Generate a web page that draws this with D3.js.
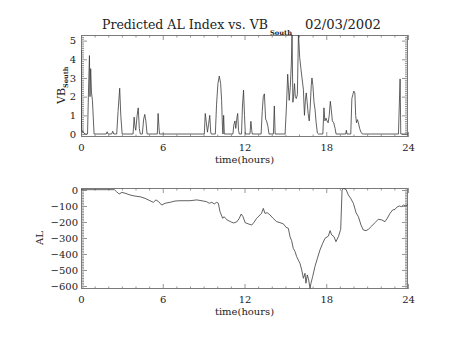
<!DOCTYPE html>
<html><head><meta charset="utf-8">
<script src="https://cdn.jsdelivr.net/npm/d3@7"></script>
<style>
html,body{margin:0;padding:0;background:#fff;}
text{font-family:"DejaVu Serif","Liberation Serif",serif;fill:#222;}
</style></head>
<body>
<svg id="c" width="454" height="341"></svg>
<script>
// ---------- data ----------
const vbTime = [0,0.03,0.08,0.15,0.22,0.3,0.48,0.55,0.62,0.66,0.71,0.77,0.84,0.9,0.96,
1.85,1.92,1.98,2.25,2.33,2.4,2.62,2.72,2.84,2.92,3.02,3.82,3.9,3.96,4.02,4.12,4.2,4.28,4.35,
4.5,4.6,4.68,4.76,4.85,5.6,5.66,5.72,5.76,9.05,9.12,9.2,9.28,9.36,9.45,9.52,9.56,
9.86,9.95,10.05,10.15,10.25,10.32,10.38,10.42,10.47,10.52,11.15,11.22,11.3,11.36,11.45,11.5,11.56,11.62,
11.78,11.85,11.93,12.0,12.06,12.4,12.47,12.53,12.57,13.22,13.3,13.38,13.46,13.55,13.62,13.72,13.8,
14.12,14.19,14.25,14.98,15.08,15.17,15.28,15.36,15.44,15.49,15.55,15.6,15.67,15.73,15.8,15.88,15.96,
16.05,16.14,16.22,16.32,16.4,16.47,16.53,16.6,16.67,16.75,16.82,16.9,16.95,17.02,17.1,17.18,17.26,17.35,17.42,
17.75,17.83,17.9,17.98,18.06,18.14,18.22,18.3,18.37,18.45,18.55,18.65,18.72,19.42,19.48,19.52,
19.8,19.88,19.95,20.02,20.1,20.16,20.22,20.29,20.36,20.45,20.55,20.65,23.3,23.36,23.42,23.47,24];
const vbValue = [4.5,0.3,0.1,0.15,0.05,0,0,2.3,4.2,2.0,3.5,2.2,1.8,0.9,0,
0,0.12,0,0,0.15,0,0,1.2,2.45,1.0,0,0,0.9,0.4,0.2,1.0,1.4,0.3,0,
0,0.8,1.05,0.7,0,0,1.1,0.4,0,0,1.1,0.6,0.1,0.5,1.0,0.1,0,
0,1.6,2.7,3.1,2.7,1.8,0.4,0,1.0,0,0,0.5,0.7,0.3,0.9,1.1,0.2,0,
0,1.5,2.35,1.0,0,0,0.68,0.2,0,0,1.2,2.0,2.15,0.8,0.7,0.4,0,
0,1.5,0,0,1.5,3.2,1.8,2.5,3.8,5.4,1.7,2.0,2.7,2.0,1.9,2.1,5.4,
4.1,3.5,3.0,2.4,1.0,1.8,2.2,1.7,1.1,0.7,1.4,2.6,3.0,2.6,1.7,1.3,0.6,0.05,0,
0,1.4,0.7,0.85,0.7,0.6,1.0,1.75,1.3,0.7,0.6,0.3,0,0,0.2,0,
0,1.9,2.1,2.3,2.2,1.0,0.6,0.77,0.6,0.3,0.1,0,0,1.5,2.95,0,0];

const alTime = [0,2.45,2.6,2.8,3.0,3.23,3.6,3.95,4.33,4.7,5.06,5.31,5.5,5.7,5.92,6.17,6.53,6.9,7.26,8.0,8.5,
8.98,9.22,9.42,9.6,9.78,9.96,10.08,10.2,10.4,10.5,10.72,10.97,11.2,11.42,11.6,11.76,11.88,12.05,12.28,12.53,
12.7,12.89,13.14,13.25,13.38,13.5,13.67,13.87,14.1,14.36,14.6,14.85,15.05,15.22,15.34,15.46,15.58,15.71,15.83,
15.95,16.07,16.2,16.32,16.44,16.51,16.61,16.71,16.81,16.88,17.0,17.17,17.35,17.54,17.74,17.91,18.16,18.28,18.4,
18.57,18.71,18.89,19.06,19.16,19.26,19.45,19.62,19.79,19.99,20.19,20.36,20.55,20.72,20.92,21.09,21.34,21.58,
21.82,22.07,22.31,22.48,22.68,22.87,23.05,23.17,23.36,23.53,23.66,23.85,24.0];
const alValue = [2,2,-10,-25,-15,-20,-31,-38,-42,-52,-67,-77,-62,-73,-94,-83,-77,-69,-67,-67,-62,
-69,-73,-83,-77,-87,-77,-83,-135,-177,-167,-187,-198,-206,-200,-180,-150,-165,-204,-212,-219,
-202,-177,-156,-146,-115,-146,-142,-156,-177,-198,-204,-212,-233,-240,-292,-317,-365,-385,-417,
-438,-458,-500,-552,-521,-583,-531,-562,-615,-583,-542,-479,-427,-375,-333,-302,-288,-254,-281,
-292,-323,-292,-246,0,10,4,-31,-52,-83,-142,-167,-219,-250,-254,-246,-225,-204,
-183,-187,-198,-177,-146,-125,-121,-108,-100,-104,-94,-100,-90];

const xTicks = [0,6,12,18,24];
const vbTicks = [0,1,2,3,4,5];
const alTicks = [0,-100,-200,-300,-400,-500,-600];
const titleMain = "Predicted AL Index vs. VB";
const titleSub = "South";
const titleDate = "02/03/2002";
const xLabel = "time(hours)";

// ---------- drawing ----------
const svg = d3.select("#c");
const L = 81, R = 408;
const frameCol = "#7a7a7a", lineCol = "#3a3a3a";
const FONT = "DejaVu Serif, Liberation Serif, serif";

function panel(top, bottom, yDomain, yMajor, yMinorStep, tData, vData, yPad) {
  const x = d3.scaleLinear().domain([0,24]).range([L,R]);
  const y = d3.scaleLinear().domain(yDomain).range([bottom, top]);
  const g = svg.append("g");
  g.append("defs").append("clipPath").attr("id","cp"+top)
    .append("rect").attr("x",L).attr("y",top).attr("width",R-L).attr("height",bottom-top);
  const xMinor = d3.range(0,24.001,1).filter(v=>v%6!==0);
  const [y0,y1] = yDomain;
  const yMinor = d3.range(Math.ceil(y0/yMinorStep)*yMinorStep, y1+1e-9, yMinorStep)
      .map(v=>+v.toFixed(4)).filter(v=>!yMajor.includes(v));
  function ax(gen, scale, vals, size, pos, labels, pad) {
    const a = gen(scale).tickValues(vals).tickSizeInner(size).tickSizeOuter(0).tickPadding(pad||8)
      .tickFormat(labels ? (d=>(d<0?"\u2212"+(-d):""+d)) : "");
    const gg = g.append("g").attr("transform", pos).call(a);
    gg.select(".domain").remove();
    gg.selectAll("line").attr("stroke", frameCol).attr("stroke-width",0.8);
    gg.selectAll("text").attr("font-family",FONT).attr("font-size",10).attr("fill","#222");
    return gg;
  }
  ax(d3.axisBottom, x, xTicks, -5, `translate(0,${bottom})`, true, 7);
  ax(d3.axisBottom, x, xMinor, -2.5, `translate(0,${bottom})`, false);
  ax(d3.axisTop, x, xTicks, -5, `translate(0,${top})`, false);
  ax(d3.axisTop, x, xMinor, -2.5, `translate(0,${top})`, false);
  ax(d3.axisLeft, y, yMajor, -6, `translate(${L},0)`, true, yPad);
  ax(d3.axisLeft, y, yMinor, -3, `translate(${L},0)`, false);
  ax(d3.axisRight, y, yMajor, -6, `translate(${R},0)`, false);
  ax(d3.axisRight, y, yMinor, -3, `translate(${R},0)`, false);
  g.append("rect").attr("x",L+0.5).attr("y",top+0.5).attr("width",R-L-1).attr("height",bottom-top-1)
    .attr("fill","none").attr("stroke",frameCol).attr("stroke-width",1);
  const line = d3.line().x((d,i)=>x(tData[i])).y(d=>y(d));
  g.append("path").datum(vData).attr("d",line).attr("clip-path",`url(#cp${top})`)
    .attr("fill","none").attr("stroke",lineCol).attr("stroke-width",0.8);
  g.append("text").attr("x",(L+R)/2).attr("y",bottom+26).attr("text-anchor","middle")
    .attr("font-size",10).text(xLabel);
}

panel(35, 137, [-0.16, 5.3], vbTicks, 0.1, vbTime, vbValue, 5);
panel(188, 289, [-619, 12.5], alTicks, 10, alTime, alValue, 3);

// title
svg.append("text").attr("x",102).attr("y",29).attr("font-size",12)
  .attr("textLength",166).attr("lengthAdjust","spacingAndGlyphs").text(titleMain);
svg.append("text").attr("x",270).attr("y",34.5).attr("font-size",6.5).attr("font-weight","bold")
  .attr("textLength",22).attr("lengthAdjust","spacingAndGlyphs").text(titleSub);
svg.append("text").attr("x",305).attr("y",29).attr("font-size",12)
  .attr("textLength",76).attr("lengthAdjust","spacingAndGlyphs").text(titleDate);

// y labels
const yl1 = svg.append("text").attr("transform","translate(65,104) rotate(-90)").attr("font-size",11);
yl1.append("tspan").text("VB");
yl1.append("tspan").attr("font-size",6.5).attr("font-weight","bold").attr("dy",2.5).text("South");
svg.append("text").attr("transform","translate(43,238) rotate(-90)").attr("text-anchor","middle")
  .attr("font-size",10).text("AL");
</script>
</body></html>
